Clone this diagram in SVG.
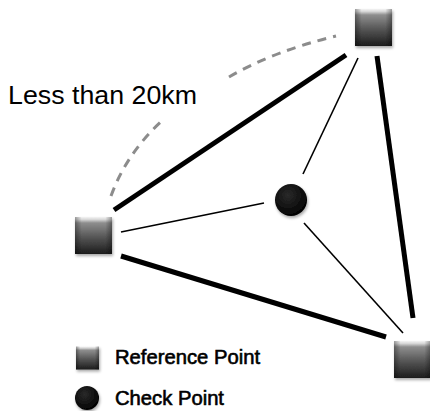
<svg xmlns="http://www.w3.org/2000/svg" width="430" height="411" viewBox="0 0 430 411">
  <defs>
    <linearGradient id="boxFill" x1="0" y1="0" x2="0" y2="1">
      <stop offset="0" stop-color="#f4f4f4"/>
      <stop offset="0.07" stop-color="#d6d6d6"/>
      <stop offset="0.16" stop-color="#8e8e8e"/>
      <stop offset="0.55" stop-color="#555555"/>
      <stop offset="1" stop-color="#1c1c1c"/>
    </linearGradient>
    <linearGradient id="boxSides" x1="0" y1="0" x2="1" y2="0">
      <stop offset="0" stop-color="#000" stop-opacity="0.35"/>
      <stop offset="0.18" stop-color="#000" stop-opacity="0"/>
      <stop offset="0.82" stop-color="#000" stop-opacity="0"/>
      <stop offset="1" stop-color="#000" stop-opacity="0.35"/>
    </linearGradient>
    <radialGradient id="dotFill" cx="0.4" cy="0.35" r="0.7">
      <stop offset="0" stop-color="#2a2a2a"/>
      <stop offset="1" stop-color="#000"/>
    </radialGradient>
    <filter id="soft" x="-20%" y="-20%" width="150%" height="150%">
      <feGaussianBlur in="SourceAlpha" stdDeviation="1.5"/>
      <feOffset dx="1" dy="2" result="b"/>
      <feComponentTransfer><feFuncA type="linear" slope="0.35"/></feComponentTransfer>
      <feMerge><feMergeNode/><feMergeNode in="SourceGraphic"/></feMerge>
    </filter>
    <!-- reference point marker, unit square -->
    <g id="refBox">
      <rect x="0" y="0" width="1" height="1" fill="url(#boxFill)"/>
      <rect x="0" y="0" width="1" height="1" fill="url(#boxSides)"/>
    </g>
  </defs>
  <style>
    .thick { stroke: #000; stroke-width: 5; stroke-linecap: butt; fill: none; }
    .thin { stroke: #000; stroke-width: 1.6; fill: none; }
    .dash { stroke: #8c8c8c; stroke-width: 3; stroke-dasharray: 9 7; fill: none; }
    .label { font-family: "Liberation Sans", Arial, sans-serif; fill: #000; }
    .legend-text { stroke: #000; stroke-width: 0.6; }
  </style>

  <rect width="430" height="411" fill="#fff"/>

  <!-- distance arc -->
  <g id="distance">
    <path class="dash" d="M111,196 Q127,152 164,119"/>
    <path class="dash" d="M229,77 Q274,51 336,36"/>
    <text class="label" x="8" y="104" font-size="26" textLength="189" lengthAdjust="spacingAndGlyphs">Less than 20km</text>
  </g>

  <!-- connectors -->
  <g id="connectors">
    <line class="thick" x1="114" y1="210" x2="346" y2="55"/>
    <line class="thick" x1="377" y1="56" x2="413" y2="318"/>
    <line class="thick" x1="121" y1="256" x2="386" y2="337"/>
    <line class="thin" x1="358" y1="58" x2="303" y2="174"/>
    <line class="thin" x1="121" y1="232" x2="264" y2="203"/>
    <line class="thin" x1="304" y1="223" x2="403" y2="333"/>
  </g>

  <!-- reference points -->
  <g id="ref-top" filter="url(#soft)">
    <use href="#refBox" transform="translate(355,9) scale(37)"/>
  </g>
  <g id="ref-left" filter="url(#soft)">
    <use href="#refBox" transform="translate(75,217) scale(37)"/>
  </g>
  <g id="ref-bottom-right" filter="url(#soft)">
    <use href="#refBox" transform="translate(394,341) scale(37)"/>
  </g>

  <!-- check point -->
  <g id="check" filter="url(#soft)">
    <circle cx="291" cy="200" r="16" fill="url(#dotFill)"/>
  </g>

  <!-- legend -->
  <g id="legend">
    <g id="legend-ref" filter="url(#soft)">
      <use href="#refBox" transform="translate(76,346.5) scale(23)"/>
    </g>
    <text class="label legend-text" x="115" y="364" font-size="20" textLength="145" lengthAdjust="spacingAndGlyphs">Reference Point</text>
    <g id="legend-check" filter="url(#soft)">
      <circle cx="87" cy="398" r="12" fill="url(#dotFill)"/>
    </g>
    <text class="label legend-text" x="115" y="405" font-size="20" textLength="109" lengthAdjust="spacingAndGlyphs">Check Point</text>
  </g>
</svg>
